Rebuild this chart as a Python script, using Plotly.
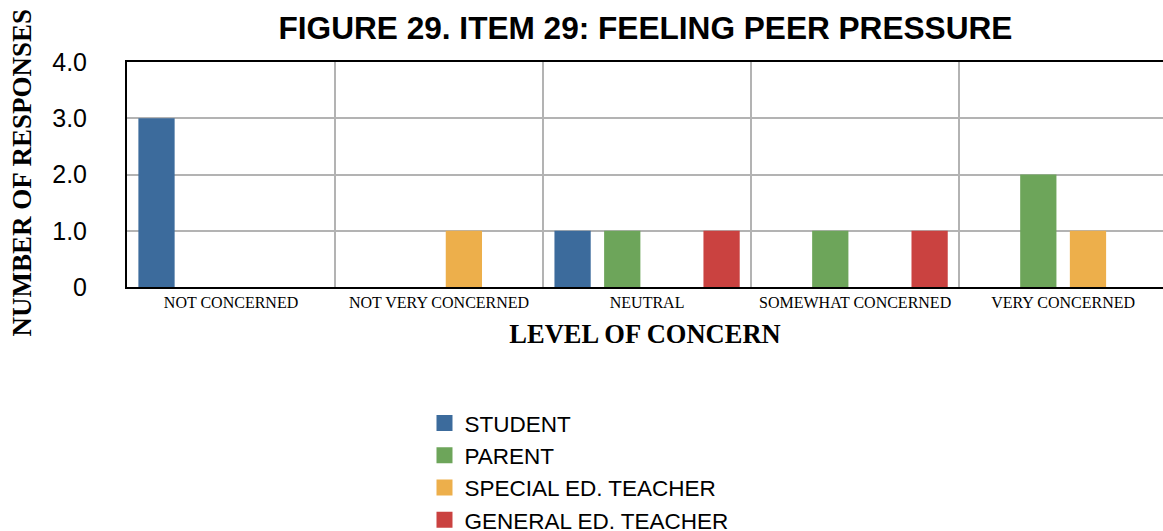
import plotly.graph_objects as go

categories = ["NOT CONCERNED", "NOT VERY CONCERNED", "NEUTRAL", "SOMEWHAT CONCERNED", "VERY CONCERNED"]
series_names = ["STUDENT", "PARENT", "SPECIAL ED. TEACHER", "GENERAL ED. TEACHER"]
student = [3, 0, 1, 0, 0]
parent = [0, 0, 1, 1, 2]
special_ed = [0, 1, 0, 0, 1]
general_ed = [0, 0, 1, 1, 0]
colors = ["#3C6B9C", "#6DA55A", "#EDAF4B", "#CA4240"]
y_tickvals = [0, 1, 2, 3, 4]
y_ticktext = ["0", "1.0", "2.0", "3.0", "4.0"]

series_values = [student, parent, special_ed, general_ed]

fig = go.Figure()
for name, vals, col in zip(series_names, series_values, colors):
    fig.add_trace(go.Bar(x=categories, y=vals, name=name, marker=dict(color=col, line=dict(width=0)),
                         showlegend=False, legendgroup=name))
for name, col in zip(series_names, colors):
    fig.add_trace(go.Scatter(x=[None], y=[None], mode="markers", name=name, legendgroup=name,
                             marker=dict(symbol="square", size=24, color=col)))

serif = "Times New Roman, Liberation Serif, serif"
sans = "Helvetica, Arial, Liberation Sans, sans-serif"

fig.update_layout(
    width=1163, height=531,
    margin=dict(l=127, r=0, t=62, b=244, autoexpand=False),
    paper_bgcolor="white", plot_bgcolor="white",
    barmode="group", bargap=0.045, bargroupgap=0.27,
    title=dict(text="<b>FIGURE 29. ITEM 29: FEELING PEER PRESSURE</b>",
               font=dict(family=sans, size=31.6, color="black"),
               x=0.555, xanchor="center", xref="container", y=0.947, yanchor="middle", yref="container"),
    xaxis=dict(type="category", range=[-0.5, 4.48], tickson="boundaries",
               showgrid=True, gridcolor="#b3b3b3", gridwidth=2,
               showline=True, linecolor="black", linewidth=2, mirror=True,
               ticks="", tickangle=0, automargin=False,
               tickfont=dict(family=serif, size=16, color="black"),
               title=dict(text="<b>LEVEL OF CONCERN</b>", font=dict(family=serif, size=26.5, color="black"),
                          standoff=14)),
    yaxis=dict(range=[0, 4], tickvals=y_tickvals, ticktext=y_ticktext, automargin=False,
               showgrid=True, gridcolor="#b3b3b3", gridwidth=2,
               showline=True, linecolor="black", linewidth=2, zeroline=False,
               ticks="", ticklabelstandoff=33, tickfont=dict(family=sans, size=25, color="black")),
    annotations=[dict(text="<b>NUMBER OF RESPONSES</b>", textangle=-90, showarrow=False,
                      xref="paper", yref="paper", x=0, y=0.5, xanchor="center", yanchor="middle",
                      xshift=-106, yshift=2, font=dict(family=serif, size=27, color="black"))],
    legend=dict(orientation="v", x=0.365, xref="container", xanchor="left",
                y=0.243, yref="container", yanchor="top", tracegroupgap=0,
                font=dict(family=sans, size=22.5, color="black"), itemsizing="trace",
                bgcolor="rgba(0,0,0,0)"),
)

fig.write_html("out.html", config={"displayModeBar": False},
               post_script="document.body.style.margin='0';document.body.style.overflow='hidden';")
